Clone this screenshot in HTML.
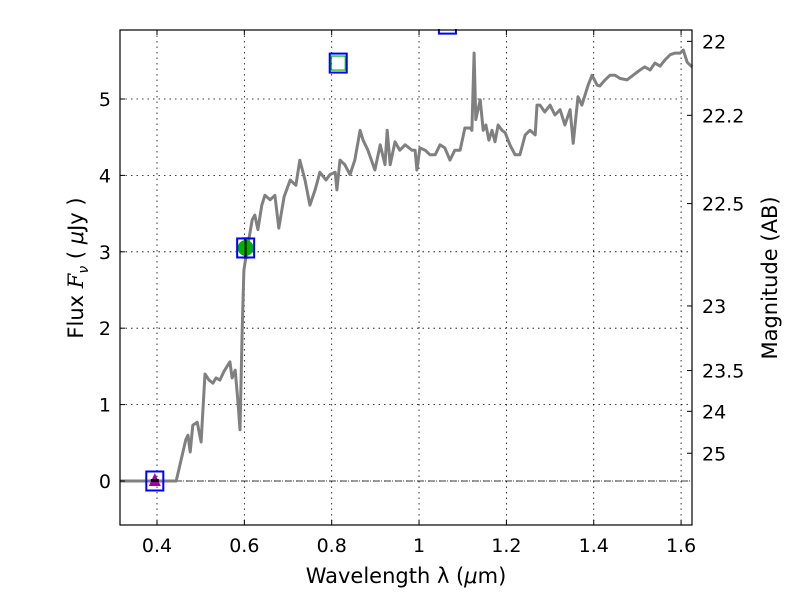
<!DOCTYPE html>
<html><head><meta charset="utf-8"><style>
body{margin:0;background:#fff}
svg text{font-family:"DejaVu Sans","Liberation Sans",sans-serif;fill:#000}
</style></head><body>
<svg id="chart" width="800" height="600" xmlns="http://www.w3.org/2000/svg">
<rect width="800" height="600" fill="#fff"/>
<g id="grid"></g><g id="series"></g><g id="marks"></g><g id="axes"></g>
</svg>
<script>
const NS="http://www.w3.org/2000/svg";
const xTicks=[0.4,0.6,0.8,1.0,1.2,1.4,1.6];
const xTickLabels=["0.4","0.6","0.8","1","1.2","1.4","1.6"];
const yTicks=[0,1,2,3,4,5];
const magTicks=[22,22.2,22.5,23,23.5,24,25];
const magLabels=["22","22.2","22.5","23","23.5","24","25"];
const specWave=[0.315,0.444,0.466,0.471,0.476,0.482,0.492,0.501,0.510,0.519,0.528,0.535,0.544,0.553,0.567,0.572,0.579,0.585,0.590,0.595,0.599,0.606,0.618,0.624,0.631,0.640,0.647,0.659,0.670,0.679,0.691,0.705,0.718,0.727,0.739,0.750,0.762,0.773,0.787,0.796,0.808,0.812,0.819,0.830,0.842,0.853,0.865,0.872,0.883,0.899,0.911,0.922,0.927,0.934,0.945,0.956,0.968,0.984,0.991,0.995,1.002,1.014,1.025,1.037,1.048,1.059,1.071,1.082,1.094,1.105,1.117,1.121,1.126,1.130,1.140,1.147,1.153,1.160,1.167,1.174,1.181,1.190,1.197,1.208,1.220,1.231,1.243,1.254,1.266,1.270,1.277,1.288,1.300,1.311,1.323,1.334,1.346,1.353,1.364,1.373,1.387,1.396,1.408,1.414,1.426,1.437,1.449,1.460,1.476,1.490,1.506,1.517,1.529,1.540,1.552,1.563,1.575,1.586,1.598,1.605,1.614,1.625];
const specFlux=[0,0,0.54,0.60,0.38,0.73,0.77,0.51,1.40,1.32,1.28,1.35,1.32,1.43,1.56,1.35,1.45,1.06,0.67,1.98,2.76,3.02,3.42,3.48,3.29,3.61,3.74,3.68,3.74,3.31,3.72,3.94,3.87,4.20,3.94,3.61,3.81,4.04,3.94,4.01,4.04,3.81,4.20,4.14,4.01,4.20,4.59,4.46,4.33,4.07,4.40,4.14,4.59,4.14,4.44,4.33,4.40,4.33,4.33,4.07,4.36,4.33,4.27,4.27,4.40,4.36,4.20,4.33,4.33,4.62,4.62,4.59,5.60,4.73,4.99,4.59,4.66,4.46,4.59,4.44,4.66,4.59,4.56,4.40,4.27,4.27,4.53,4.59,4.53,4.92,4.92,4.83,4.92,4.79,4.86,4.66,4.86,4.42,5.03,4.92,5.18,5.31,5.18,5.17,5.25,5.31,5.31,5.27,5.25,5.31,5.38,5.42,5.38,5.47,5.43,5.51,5.58,5.60,5.60,5.64,5.48,5.42];
const photWave=[0.395,0.603,0.815,1.065];
const photFlux=[0,3.05,5.47,5.98];
const photErr=[0,0.1,0,0];
const photKind=["upper","detect","open","blue"];
const L=120,R=692,T=30,B=525,xMin=0.3153,xMax=1.625,yMin=-0.576,yMax=5.903;
const sx=v=>L+(v-xMin)/(xMax-xMin)*(R-L);
const sy=v=>B-(v-yMin)/(yMax-yMin)*(B-T);
const magY=m=>sy(Math.pow(10,(23.9-m)/2.5));
function el(t,a,p){const e=document.createElementNS(NS,t);for(const k in a)e.setAttribute(k,a[k]);p.appendChild(e);return e;}
const grid=document.getElementById('grid'),axes=document.getElementById('axes'),series=document.getElementById('series'),marks=document.getElementById('marks');
xTicks.forEach((v,i)=>{
 const g=el('line',{x1:sx(v),x2:sx(v),y1:T,y2:B,stroke:'#000','stroke-dasharray':'1.5,4','stroke-width':0.8},grid);
 
 el('line',{x1:sx(v),x2:sx(v),y1:B,y2:B-5,stroke:'#000'},axes);
 el('line',{x1:sx(v),x2:sx(v),y1:T,y2:T+5,stroke:'#000'},axes);
 const t=el('text',{x:sx(v),y:B+27,'font-size':19,'text-anchor':'middle'},axes);t.textContent=xTickLabels[i];
 
});
yTicks.forEach(v=>{
 const g=el('line',{x1:L,x2:R,y1:sy(v),y2:sy(v),stroke:'#000','stroke-dasharray':'1.5,4','stroke-width':0.8},grid);
 
 el('line',{x1:L,x2:L+5,y1:sy(v),y2:sy(v),stroke:'#000'},axes);
 const t=el('text',{x:L-9,y:sy(v)+7,'font-size':19,'text-anchor':'end'},axes);t.textContent=String(v);
 
});
magTicks.forEach((m,i)=>{
 el('line',{x1:R,x2:R-5,y1:magY(m),y2:magY(m),stroke:'#000'},axes);
 const t=el('text',{x:R+10,y:magY(m)+7,'font-size':19},axes);t.textContent=magLabels[i];
 
});
const zl=el('line',{x1:L,x2:R,y1:sy(0),y2:sy(0),stroke:'#000','stroke-width':0.8,'stroke-dasharray':'6,2,1,2'},grid);

const p=el('path',{d:specWave.map((w,i)=>(i?'L':'M')+sx(w).toFixed(1)+','+sy(specFlux[i]).toFixed(1)).join(''),fill:'none',stroke:'#808080','stroke-width':3,'stroke-linejoin':'round'},series);

photWave.forEach((w,i)=>{
 const x=sx(w),y=sy(photFlux[i]);const k=photKind[i];
 const g=el('g',{},marks);
 
 if(k==='upper'){el('polygon',{points:`${x},${y-8} ${x-6},${y+5} ${x+6},${y+5}`,fill:'#a000a0'},g);el('rect',{x:x-4,y:y-2,width:8,height:3,fill:'#000'},g);}
 if(k==='detect'){el('circle',{cx:x,cy:y,r:8,fill:'#00b000'},g);const e=photErr[i];const y1=sy(photFlux[i]+e)-2,y2=sy(photFlux[i]-e)+2;el('line',{x1:x,x2:x,y1:y1,y2:y2,stroke:'#000','stroke-width':2},g);el('line',{x1:x-4,x2:x+4,y1:y1,y2:y1,stroke:'#000','stroke-width':2},g);el('line',{x1:x-4,x2:x+4,y1:y2,y2:y2,stroke:'#000','stroke-width':2},g);}
 if(k==='open'){el('rect',{x:x-7,y:y-7,width:14,height:14,fill:'none',stroke:'#00c000','stroke-width':1.2},g);}
 el('rect',{x:x-8.5,y:y-9.5,width:17,height:19,fill:'none',stroke:'#0000ff','stroke-width':2},g);
});
el('rect',{x:0,y:0,width:800,height:T-1,fill:'#fff'},marks);
const fr=el('rect',{x:L,y:T,width:R-L,height:B-T,fill:'none',stroke:'#000','stroke-width':1.2},axes);

</script>
<svg style="position:absolute;left:0;top:0" width="800" height="600">
<text x="406" y="583" font-size="21" text-anchor="middle">Wavelength  λ (<tspan font-style="italic">μ</tspan>m)</text>
<text transform="translate(83,268) rotate(-90)" font-size="21" text-anchor="middle">Flux  <tspan font-style="italic" style="font-family:'DejaVu Serif','Liberation Serif',serif">F</tspan><tspan font-style="italic" font-size="14" dy="5">ν</tspan><tspan dy="-5">  ( </tspan><tspan font-style="italic">μ</tspan>Jy )</text>
<text transform="translate(777,278) rotate(-90)" font-size="21" text-anchor="middle">Magnitude (AB)</text>
</svg>
</body></html>
